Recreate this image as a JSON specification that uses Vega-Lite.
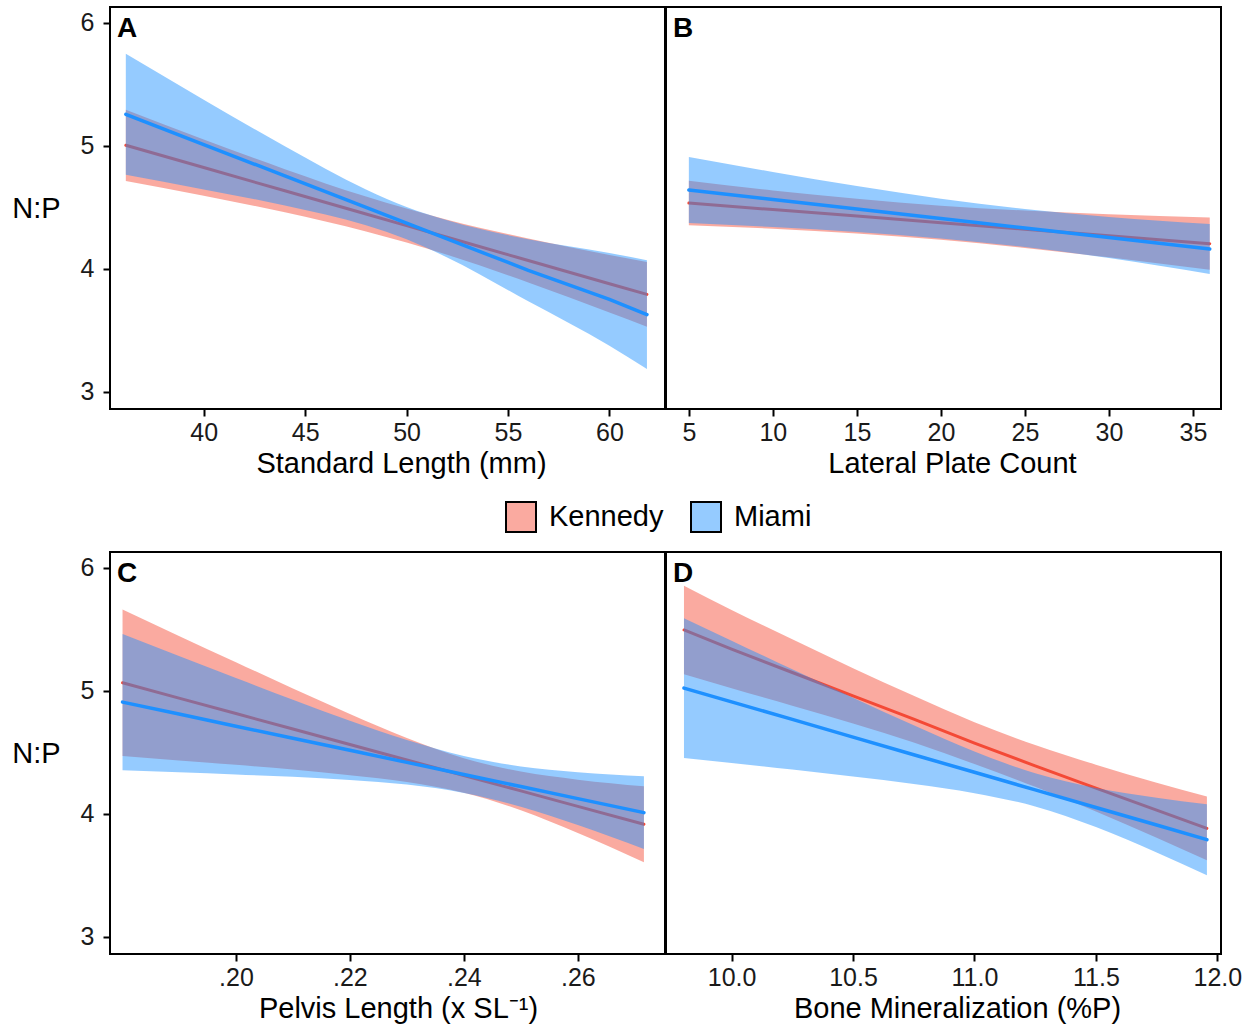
{
  "$schema": "https://vega.github.io/schema/vega-lite/v6.json",
  "padding": {"left": 10, "top": 6, "right": 5, "bottom": 5},
  "background": "white",
  "datasets": {
    "np": [
      {"panel":"A","site":"Kennedy","x":36.16,"lower":4.715,"fit":5.005,"upper":5.295},
      {"panel":"A","site":"Kennedy","x":40,"lower":4.595,"fit":4.824,"upper":5.053},
      {"panel":"A","site":"Kennedy","x":44,"lower":4.460,"fit":4.635,"upper":4.811},
      {"panel":"A","site":"Kennedy","x":48,"lower":4.304,"fit":4.446,"upper":4.588},
      {"panel":"A","site":"Kennedy","x":50,"lower":4.214,"fit":4.352,"upper":4.490},
      {"panel":"A","site":"Kennedy","x":52,"lower":4.114,"fit":4.257,"upper":4.400},
      {"panel":"A","site":"Kennedy","x":56,"lower":3.889,"fit":4.068,"upper":4.247},
      {"panel":"A","site":"Kennedy","x":60,"lower":3.645,"fit":3.879,"upper":4.113},
      {"panel":"A","site":"Kennedy","x":61.85,"lower":3.529,"fit":3.792,"upper":4.055},
      {"panel":"A","site":"Miami","x":36.16,"lower":4.765,"fit":5.257,"upper":5.749},
      {"panel":"A","site":"Miami","x":40,"lower":4.646,"fit":5.011,"upper":5.376},
      {"panel":"A","site":"Miami","x":44,"lower":4.515,"fit":4.756,"upper":4.997},
      {"panel":"A","site":"Miami","x":48,"lower":4.355,"fit":4.500,"upper":4.645},
      {"panel":"A","site":"Miami","x":50,"lower":4.241,"fit":4.372,"upper":4.503},
      {"panel":"A","site":"Miami","x":52,"lower":4.093,"fit":4.244,"upper":4.395},
      {"panel":"A","site":"Miami","x":56,"lower":3.736,"fit":3.988,"upper":4.240},
      {"panel":"A","site":"Miami","x":60,"lower":3.375,"fit":3.752,"upper":4.129},
      {"panel":"A","site":"Miami","x":61.85,"lower":3.186,"fit":3.628,"upper":4.070},
      {"panel":"B","site":"Kennedy","x":5,"lower":4.354,"fit":4.535,"upper":4.716},
      {"panel":"B","site":"Kennedy","x":10,"lower":4.326,"fit":4.482,"upper":4.638},
      {"panel":"B","site":"Kennedy","x":15,"lower":4.288,"fit":4.429,"upper":4.570},
      {"panel":"B","site":"Kennedy","x":20,"lower":4.236,"fit":4.375,"upper":4.514},
      {"panel":"B","site":"Kennedy","x":25,"lower":4.170,"fit":4.322,"upper":4.474},
      {"panel":"B","site":"Kennedy","x":30,"lower":4.094,"fit":4.269,"upper":4.444},
      {"panel":"B","site":"Kennedy","x":36,"lower":3.992,"fit":4.205,"upper":4.418},
      {"panel":"B","site":"Miami","x":5,"lower":4.373,"fit":4.641,"upper":4.909},
      {"panel":"B","site":"Miami","x":10,"lower":4.340,"fit":4.564,"upper":4.788},
      {"panel":"B","site":"Miami","x":15,"lower":4.299,"fit":4.486,"upper":4.674},
      {"panel":"B","site":"Miami","x":20,"lower":4.247,"fit":4.409,"upper":4.571},
      {"panel":"B","site":"Miami","x":25,"lower":4.177,"fit":4.332,"upper":4.487},
      {"panel":"B","site":"Miami","x":30,"lower":4.088,"fit":4.255,"upper":4.422},
      {"panel":"B","site":"Miami","x":36,"lower":3.959,"fit":4.162,"upper":4.365},
      {"panel":"C","site":"Kennedy","x":0.1801,"lower":4.470,"fit":5.066,"upper":5.662},
      {"panel":"C","site":"Kennedy","x":0.19,"lower":4.435,"fit":4.941,"upper":5.447},
      {"panel":"C","site":"Kennedy","x":0.20,"lower":4.399,"fit":4.816,"upper":5.233},
      {"panel":"C","site":"Kennedy","x":0.21,"lower":4.360,"fit":4.690,"upper":5.020},
      {"panel":"C","site":"Kennedy","x":0.22,"lower":4.315,"fit":4.564,"upper":4.813},
      {"panel":"C","site":"Kennedy","x":0.23,"lower":4.259,"fit":4.438,"upper":4.617},
      {"panel":"C","site":"Kennedy","x":0.24,"lower":4.172,"fit":4.312,"upper":4.452},
      {"panel":"C","site":"Kennedy","x":0.25,"lower":4.030,"fit":4.187,"upper":4.344},
      {"panel":"C","site":"Kennedy","x":0.26,"lower":3.844,"fit":4.061,"upper":4.278},
      {"panel":"C","site":"Kennedy","x":0.2716,"lower":3.606,"fit":3.915,"upper":4.224},
      {"panel":"C","site":"Miami","x":0.1801,"lower":4.354,"fit":4.909,"upper":5.464},
      {"panel":"C","site":"Miami","x":0.19,"lower":4.339,"fit":4.812,"upper":5.285},
      {"panel":"C","site":"Miami","x":0.20,"lower":4.321,"fit":4.713,"upper":5.105},
      {"panel":"C","site":"Miami","x":0.21,"lower":4.301,"fit":4.615,"upper":4.929},
      {"panel":"C","site":"Miami","x":0.22,"lower":4.276,"fit":4.517,"upper":4.758},
      {"panel":"C","site":"Miami","x":0.23,"lower":4.238,"fit":4.419,"upper":4.600},
      {"panel":"C","site":"Miami","x":0.24,"lower":4.170,"fit":4.320,"upper":4.470},
      {"panel":"C","site":"Miami","x":0.25,"lower":4.058,"fit":4.222,"upper":4.386},
      {"panel":"C","site":"Miami","x":0.26,"lower":3.909,"fit":4.124,"upper":4.339},
      {"panel":"C","site":"Miami","x":0.2716,"lower":3.714,"fit":4.010,"upper":4.306},
      {"panel":"D","site":"Kennedy","x":9.804,"lower":5.136,"fit":5.496,"upper":5.856},
      {"panel":"D","site":"Kennedy","x":10.0,"lower":5.021,"fit":5.34,"upper":5.659},
      {"panel":"D","site":"Kennedy","x":10.25,"lower":4.880,"fit":5.15,"upper":5.420},
      {"panel":"D","site":"Kennedy","x":10.5,"lower":4.735,"fit":4.96,"upper":5.185},
      {"panel":"D","site":"Kennedy","x":10.75,"lower":4.580,"fit":4.77,"upper":4.960},
      {"panel":"D","site":"Kennedy","x":11.0,"lower":4.405,"fit":4.575,"upper":4.745},
      {"panel":"D","site":"Kennedy","x":11.25,"lower":4.220,"fit":4.39,"upper":4.560},
      {"panel":"D","site":"Kennedy","x":11.5,"lower":4.020,"fit":4.21,"upper":4.400},
      {"panel":"D","site":"Kennedy","x":11.75,"lower":3.806,"fit":4.03,"upper":4.254},
      {"panel":"D","site":"Kennedy","x":11.957,"lower":3.622,"fit":3.882,"upper":4.142},
      {"panel":"D","site":"Miami","x":9.804,"lower":4.454,"fit":5.023,"upper":5.592},
      {"panel":"D","site":"Miami","x":10.0,"lower":4.413,"fit":4.911,"upper":5.409},
      {"panel":"D","site":"Miami","x":10.25,"lower":4.360,"fit":4.768,"upper":5.176},
      {"panel":"D","site":"Miami","x":10.5,"lower":4.303,"fit":4.624,"upper":4.945},
      {"panel":"D","site":"Miami","x":10.75,"lower":4.242,"fit":4.481,"upper":4.720},
      {"panel":"D","site":"Miami","x":11.0,"lower":4.168,"fit":4.338,"upper":4.508},
      {"panel":"D","site":"Miami","x":11.25,"lower":4.060,"fit":4.195,"upper":4.330},
      {"panel":"D","site":"Miami","x":11.5,"lower":3.893,"fit":4.052,"upper":4.211},
      {"panel":"D","site":"Miami","x":11.75,"lower":3.686,"fit":3.909,"upper":4.132},
      {"panel":"D","site":"Miami","x":11.957,"lower":3.501,"fit":3.790,"upper":4.079}
    ]
  },
  "data": {"name": "np"},
  "spacing": 72,
  "vconcat": [
    {
      "spacing": -2,
      "hconcat": [
        {
          "width": 555, "height": 402,
          "title": {"text": "A", "anchor": "start", "frame": "group", "orient": "top", "offset": -36, "dx": 7, "fontSize": 28, "fontWeight": "bold", "color": "black"},
          "transform": [{"filter": "datum.panel === 'A'"}],
          "encoding": {"x": {"field": "x", "type": "quantitative", "scale": {"domain": [35.38, 62.74], "nice": false, "zero": false}, "axis": {"values": [40, 45, 50, 55, 60], "title": "Standard Length (mm)", "titleX": 291}}},
          "layer": [
            {"transform": [{"filter": "datum.site === 'Kennedy'"}], "mark": {"type": "area", "fillOpacity": 0.47, "interpolate": "monotone"},
             "encoding": {"y": {"field": "lower", "type": "quantitative", "scale": {"domain": [2.86, 6.13], "nice": false, "zero": false}, "axis": {"values": [3, 4, 5, 6], "title": "N:P"}}, "y2": {"field": "upper"},
                          "fill": {"field": "site", "type": "nominal", "scale": {"domain": ["Kennedy", "Miami"], "range": ["#F44A36", "#1E90FF"]}, "legend": {"title": null, "symbolStrokeColor": "black", "symbolStrokeWidth": 2, "encode": {"symbols": {"update": {"fillOpacity": {"value": 0.47}}}}}}}},
            {"transform": [{"filter": "datum.site === 'Kennedy'"}], "mark": {"type": "line", "color": "#F44A36", "strokeWidth": 3, "strokeCap": "round"},
             "encoding": {"y": {"field": "fit", "type": "quantitative", "scale": {"domain": [2.86, 6.13], "nice": false, "zero": false}, "axis": {"values": [3, 4, 5, 6], "title": "N:P"}}}},
            {"transform": [{"filter": "datum.site === 'Miami'"}], "mark": {"type": "area", "fillOpacity": 0.47, "interpolate": "monotone"},
             "encoding": {"y": {"field": "lower", "type": "quantitative", "scale": {"domain": [2.86, 6.13], "nice": false, "zero": false}, "axis": {"values": [3, 4, 5, 6], "title": "N:P"}}, "y2": {"field": "upper"},
                          "fill": {"field": "site", "type": "nominal", "scale": {"domain": ["Kennedy", "Miami"], "range": ["#F44A36", "#1E90FF"]}, "legend": {"title": null, "symbolStrokeColor": "black", "symbolStrokeWidth": 2, "encode": {"symbols": {"update": {"fillOpacity": {"value": 0.47}}}}}}}},
            {"transform": [{"filter": "datum.site === 'Miami'"}], "mark": {"type": "line", "color": "#1E90FF", "strokeWidth": 3.5, "strokeCap": "round"},
             "encoding": {"y": {"field": "fit", "type": "quantitative", "scale": {"domain": [2.86, 6.13], "nice": false, "zero": false}, "axis": {"values": [3, 4, 5, 6], "title": "N:P"}}}}
          ]
        },
        {
          "width": 555, "height": 402,
          "title": {"text": "B", "anchor": "start", "frame": "group", "orient": "top", "offset": -36, "dx": 7, "fontSize": 28, "fontWeight": "bold", "color": "black"},
          "transform": [{"filter": "datum.panel === 'B'"}],
          "encoding": {"x": {"field": "x", "type": "quantitative", "scale": {"domain": [3.64, 36.67], "nice": false, "zero": false}, "axis": {"values": [5, 10, 15, 20, 25, 30, 35], "title": "Lateral Plate Count", "titleX": 286}}},
          "layer": [
            {"transform": [{"filter": "datum.site === 'Kennedy'"}], "mark": {"type": "area", "fillOpacity": 0.47, "interpolate": "monotone"},
             "encoding": {"y": {"field": "lower", "type": "quantitative", "scale": {"domain": [2.86, 6.13], "nice": false, "zero": false}, "axis": null}, "y2": {"field": "upper"},
                          "fill": {"field": "site", "type": "nominal", "scale": {"domain": ["Kennedy", "Miami"], "range": ["#F44A36", "#1E90FF"]}, "legend": {"title": null, "symbolStrokeColor": "black", "symbolStrokeWidth": 2, "encode": {"symbols": {"update": {"fillOpacity": {"value": 0.47}}}}}}}},
            {"transform": [{"filter": "datum.site === 'Kennedy'"}], "mark": {"type": "line", "color": "#F44A36", "strokeWidth": 3, "strokeCap": "round"},
             "encoding": {"y": {"field": "fit", "type": "quantitative", "scale": {"domain": [2.86, 6.13], "nice": false, "zero": false}, "axis": null}}},
            {"transform": [{"filter": "datum.site === 'Miami'"}], "mark": {"type": "area", "fillOpacity": 0.47, "interpolate": "monotone"},
             "encoding": {"y": {"field": "lower", "type": "quantitative", "scale": {"domain": [2.86, 6.13], "nice": false, "zero": false}, "axis": null}, "y2": {"field": "upper"},
                          "fill": {"field": "site", "type": "nominal", "scale": {"domain": ["Kennedy", "Miami"], "range": ["#F44A36", "#1E90FF"]}, "legend": {"title": null, "symbolStrokeColor": "black", "symbolStrokeWidth": 2, "encode": {"symbols": {"update": {"fillOpacity": {"value": 0.47}}}}}}}},
            {"transform": [{"filter": "datum.site === 'Miami'"}], "mark": {"type": "line", "color": "#1E90FF", "strokeWidth": 3.5, "strokeCap": "round"},
             "encoding": {"y": {"field": "fit", "type": "quantitative", "scale": {"domain": [2.86, 6.13], "nice": false, "zero": false}, "axis": null}}}
          ]
        }
      ]
    },
    {
      "spacing": -2,
      "hconcat": [
        {
          "width": 555, "height": 402,
          "title": {"text": "C", "anchor": "start", "frame": "group", "orient": "top", "offset": -36, "dx": 7, "fontSize": 28, "fontWeight": "bold", "color": "black"},
          "transform": [{"filter": "datum.panel === 'C'"}],
          "encoding": {"x": {"field": "x", "type": "quantitative", "scale": {"domain": [0.1779, 0.2753], "nice": false, "zero": false}, "axis": {"values": [0.20, 0.22, 0.24, 0.26], "labelExpr": "substring(format(datum.value, '.2f'), 1)", "title": "Pelvis Length (x SL⁻¹)", "titleX": 288}}},
          "layer": [
            {"transform": [{"filter": "datum.site === 'Kennedy'"}], "mark": {"type": "area", "fillOpacity": 0.47, "interpolate": "monotone"},
             "encoding": {"y": {"field": "lower", "type": "quantitative", "scale": {"domain": [2.86, 6.13], "nice": false, "zero": false}, "axis": {"values": [3, 4, 5, 6], "title": "N:P"}}, "y2": {"field": "upper"},
                          "fill": {"field": "site", "type": "nominal", "scale": {"domain": ["Kennedy", "Miami"], "range": ["#F44A36", "#1E90FF"]}, "legend": {"title": null, "symbolStrokeColor": "black", "symbolStrokeWidth": 2, "encode": {"symbols": {"update": {"fillOpacity": {"value": 0.47}}}}}}}},
            {"transform": [{"filter": "datum.site === 'Kennedy'"}], "mark": {"type": "line", "color": "#F44A36", "strokeWidth": 3, "strokeCap": "round"},
             "encoding": {"y": {"field": "fit", "type": "quantitative", "scale": {"domain": [2.86, 6.13], "nice": false, "zero": false}, "axis": {"values": [3, 4, 5, 6], "title": "N:P"}}}},
            {"transform": [{"filter": "datum.site === 'Miami'"}], "mark": {"type": "area", "fillOpacity": 0.47, "interpolate": "monotone"},
             "encoding": {"y": {"field": "lower", "type": "quantitative", "scale": {"domain": [2.86, 6.13], "nice": false, "zero": false}, "axis": {"values": [3, 4, 5, 6], "title": "N:P"}}, "y2": {"field": "upper"},
                          "fill": {"field": "site", "type": "nominal", "scale": {"domain": ["Kennedy", "Miami"], "range": ["#F44A36", "#1E90FF"]}, "legend": {"title": null, "symbolStrokeColor": "black", "symbolStrokeWidth": 2, "encode": {"symbols": {"update": {"fillOpacity": {"value": 0.47}}}}}}}},
            {"transform": [{"filter": "datum.site === 'Miami'"}], "mark": {"type": "line", "color": "#1E90FF", "strokeWidth": 3.5, "strokeCap": "round"},
             "encoding": {"y": {"field": "fit", "type": "quantitative", "scale": {"domain": [2.86, 6.13], "nice": false, "zero": false}, "axis": {"values": [3, 4, 5, 6], "title": "N:P"}}}}
          ]
        },
        {
          "width": 555, "height": 402,
          "title": {"text": "D", "anchor": "start", "frame": "group", "orient": "top", "offset": -36, "dx": 7, "fontSize": 28, "fontWeight": "bold", "color": "black"},
          "transform": [{"filter": "datum.panel === 'D'"}],
          "encoding": {"x": {"field": "x", "type": "quantitative", "scale": {"domain": [9.73, 12.015], "nice": false, "zero": false}, "axis": {"values": [10, 10.5, 11, 11.5, 12], "format": ".1f", "title": "Bone Mineralization (%P)", "titleX": 291}}},
          "layer": [
            {"transform": [{"filter": "datum.site === 'Kennedy'"}], "mark": {"type": "area", "fillOpacity": 0.47, "interpolate": "monotone"},
             "encoding": {"y": {"field": "lower", "type": "quantitative", "scale": {"domain": [2.86, 6.13], "nice": false, "zero": false}, "axis": null}, "y2": {"field": "upper"},
                          "fill": {"field": "site", "type": "nominal", "scale": {"domain": ["Kennedy", "Miami"], "range": ["#F44A36", "#1E90FF"]}, "legend": {"title": null, "symbolStrokeColor": "black", "symbolStrokeWidth": 2, "encode": {"symbols": {"update": {"fillOpacity": {"value": 0.47}}}}}}}},
            {"transform": [{"filter": "datum.site === 'Kennedy'"}], "mark": {"type": "line", "color": "#F44A36", "strokeWidth": 3, "strokeCap": "round"},
             "encoding": {"y": {"field": "fit", "type": "quantitative", "scale": {"domain": [2.86, 6.13], "nice": false, "zero": false}, "axis": null}}},
            {"transform": [{"filter": "datum.site === 'Miami'"}], "mark": {"type": "area", "fillOpacity": 0.47, "interpolate": "monotone"},
             "encoding": {"y": {"field": "lower", "type": "quantitative", "scale": {"domain": [2.86, 6.13], "nice": false, "zero": false}, "axis": null}, "y2": {"field": "upper"},
                          "fill": {"field": "site", "type": "nominal", "scale": {"domain": ["Kennedy", "Miami"], "range": ["#F44A36", "#1E90FF"]}, "legend": {"title": null, "symbolStrokeColor": "black", "symbolStrokeWidth": 2, "encode": {"symbols": {"update": {"fillOpacity": {"value": 0.47}}}}}}}},
            {"transform": [{"filter": "datum.site === 'Miami'"}], "mark": {"type": "line", "color": "#1E90FF", "strokeWidth": 3.5, "strokeCap": "round"},
             "encoding": {"y": {"field": "fit", "type": "quantitative", "scale": {"domain": [2.86, 6.13], "nice": false, "zero": false}, "axis": null}}}
          ]
        }
      ]
    }
  ],
  "config": {
    "font": "Liberation Sans",
    "view": {"stroke": "black", "strokeWidth": 2},
    "axis": {"domain": false, "grid": false, "ticks": true, "tickColor": "black", "tickSize": 7, "tickWidth": 2, "labelFontSize": 25, "labelColor": "#1a1a1a", "labelPadding": 4, "titleFontSize": 29, "titleFontWeight": "normal", "titleColor": "black", "titlePadding": 4, "labelFont": "Liberation Sans", "titleFont": "Liberation Sans"},
    "axisY": {"titleAngle": 0, "titleX": -74, "titleY": 201, "titleAlign": "center", "titleBaseline": "middle", "labelPadding": 9},
    "legend": {"orient": "none", "legendX": 395, "legendY": 494, "direction": "horizontal", "symbolType": "square", "symbolSize": 900, "symbolStrokeColor": "black", "symbolStrokeWidth": 2, "labelFontSize": 29, "labelColor": "black", "labelOffset": 12, "columnPadding": 23, "padding": 0, "labelFont": "Liberation Sans"}
  }
}
